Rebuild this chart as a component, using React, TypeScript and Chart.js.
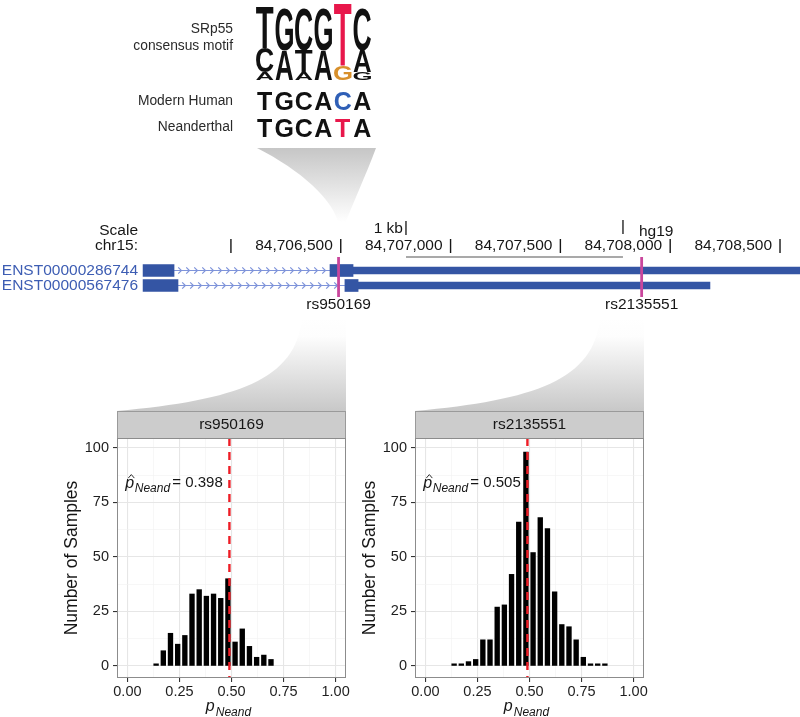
import React, { useEffect, useRef } from 'react';
import { Chart, registerables } from 'chart.js';

Chart.register(...registerables);

const FONT = '"Liberation Sans", Arial, Helvetica, sans-serif';
const INK = '#161616';

// ---------- SRp55 consensus motif logo ----------
const logoColumns = ['1', '2', '3', '4', '5', '6'];
const logoBottomLetters = ['A', 'A', 'A', 'A', 'G', 'G'];
const logoBottomBits = [0.2, 0.77, 0.2, 0.77, 0.38, 0.2];
const logoMiddleLetters = ['C', 'G', 'T', 'G', 'T', 'A'];
const logoMiddleBits = [0.64, 1.1, 0.56, 1.1, 1.62, 0.56];
const logoTopLetters = ['T', '', 'C', '', '', 'C'];
const logoTopBits = [1.08, 0, 1.1, 0, 0, 1.1];
const modernHumanSeq = ['T', 'G', 'C', 'A', 'C', 'A'];
const neanderthalSeq = ['T', 'G', 'C', 'A', 'T', 'A'];
const variantColumn = 4;

// ---------- genome browser track ----------
const transcriptIds = ['ENST00000286744', 'ENST00000567476'];
const exon1Starts = [84705600, 84705600];
const exon1Ends = [84705741, 84705759];
const exon2Starts = [84706451, 84706519];
const exon2Ends = [84706556, 84706579];
const utrEnds = [84708700, 84708181];
const snpIds = ['rs950169', 'rs2135551'];
const snpPositions = [84706490, 84707870];
const positionTicks = [84706000, 84706500, 84707000, 84707500, 84708000, 84708500];
const positionLabels = ['', '84,706,500', '84,707,000', '84,707,500', '84,708,000', '84,708,500'];
const scaleBarBounds = [84706797, 84707785];
const trackStart = 84705586;
const trackEnd = 84708591;

// ---------- histograms ----------
const binCenters = [
  0.1379, 0.1724, 0.2069, 0.2414, 0.2759, 0.3103, 0.3448, 0.3793, 0.4138, 0.4483, 0.4828,
  0.5172, 0.5517, 0.5862, 0.6207, 0.6552, 0.6897, 0.7241, 0.7586, 0.7931, 0.8276, 0.8621,
];
const rs950169Counts = [1, 7, 15, 10, 14, 33, 35, 32, 33, 31, 40, 11, 17, 9, 4, 5, 3];
const rs2135551Counts = [1, 1, 2, 3, 12, 12, 27, 28, 42, 66, 98, 52, 68, 63, 34, 19, 18, 12, 4, 1, 1, 1];
const panelTitles = ['rs950169', 'rs2135551'];
const panelCounts = [rs950169Counts, rs2135551Counts];
const neandEstimates = ['0.398', '0.505'];
const expectedFreq = 0.49;
const xTickValues = [0, 0.25, 0.5, 0.75, 1];
const xTickLabels = ['0.00', '0.25', '0.50', '0.75', '1.00'];
const xMinorValues = [0.125, 0.375, 0.625, 0.875];
const yTickValues = [0, 25, 50, 75, 100];
const yTickLabels = ['0', '25', '50', '75', '100'];
const yMinorValues = [12.5, 37.5, 62.5, 87.5];
const annotationX = -0.01;
const annotationY = 82;

const panelBounds = [
  [117, 346],
  [415, 644],
];

// ---------- helpers ----------
const isMajor = (v: number, majors: number[]) => majors.some((m) => Math.abs(m - v) < 1e-9);
const labelFor = (v: number, vals: number[], labels: string[]) => {
  const i = vals.findIndex((m) => Math.abs(m - v) < 1e-9);
  return i >= 0 ? labels[i] : '';
};

function logoColor(col: number, letter: string) {
  if (col === variantColumn && letter === 'T') return '#e8174b';
  if (col === variantColumn && letter === 'G') return '#d8902c';
  return '#111111';
}

function drawStretched(ctx: CanvasRenderingContext2D, letter: string, left: number, top: number, w: number, h: number, color: string) {
  if (h <= 0.5) return;
  ctx.save();
  ctx.font = `bold 100px ${FONT}`;
  ctx.textAlign = 'left';
  ctx.textBaseline = 'alphabetic';
  const m = ctx.measureText(letter);
  const gw = m.actualBoundingBoxLeft + m.actualBoundingBoxRight;
  const gh = m.actualBoundingBoxAscent + m.actualBoundingBoxDescent;
  ctx.translate(left, top);
  ctx.scale(w / gw, h / gh);
  ctx.fillStyle = color;
  ctx.fillText(letter, m.actualBoundingBoxLeft, m.actualBoundingBoxAscent);
  ctx.restore();
}

// ---------- logo chart ----------
const logoPlugin = {
  id: 'logoLetters',
  afterDatasetsDraw(chart: any) {
    const ctx: CanvasRenderingContext2D = chart.ctx;
    chart.data.datasets.forEach((ds: any, i: number) => {
      const meta = chart.getDatasetMeta(i);
      meta.data.forEach((bar: any, j: number) => {
        const letter = ds.letters[j];
        if (!letter) return;
        const p = bar.getProps(['x', 'y', 'base', 'width'], true);
        const top = Math.min(p.y, p.base);
        const h = Math.abs(p.base - p.y);
        drawStretched(ctx, letter, p.x - p.width / 2, top, p.width, h, logoColor(j, letter));
      });
    });
    const xs = chart.scales.x;
    ctx.save();
    ctx.font = `bold 25px ${FONT}`;
    ctx.textAlign = 'center';
    ctx.textBaseline = 'alphabetic';
    modernHumanSeq.forEach((l, j) => {
      ctx.fillStyle = j === variantColumn ? '#2f5fb6' : '#111111';
      ctx.fillText(l, xs.getPixelForValue(j), 110);
    });
    neanderthalSeq.forEach((l, j) => {
      ctx.fillStyle = j === variantColumn ? '#e8174b' : '#111111';
      ctx.fillText(l, xs.getPixelForValue(j), 137);
    });
    ctx.font = `13.8px ${FONT}`;
    ctx.fillStyle = '#2a2a2a';
    ctx.textAlign = 'right';
    ctx.textBaseline = 'middle';
    ctx.fillText('SRp55', 113, 29);
    ctx.fillText('consensus motif', 113, 46);
    ctx.fillText('Modern Human', 113, 101);
    ctx.fillText('Neanderthal', 113, 127);
    ctx.restore();
  },
};

function logoConfig(): any {
  const layers: [string[], number[]][] = [
    [logoBottomLetters, logoBottomBits],
    [logoMiddleLetters, logoMiddleBits],
    [logoTopLetters, logoTopBits],
  ];
  return {
    type: 'bar',
    data: {
      labels: logoColumns,
      datasets: layers.map(([letters, bits]) => ({
        data: bits,
        letters,
        backgroundColor: 'rgba(0,0,0,0)',
        borderWidth: 0,
        stack: 'logo',
        barPercentage: 0.9,
        categoryPercentage: 1,
      })),
    },
    options: {
      animation: false,
      responsive: false,
      events: [],
      layout: { padding: { left: 135, right: 8, top: 3, bottom: 65 } },
      plugins: { legend: { display: false }, tooltip: { enabled: false } },
      scales: {
        x: { display: false, stacked: true, offset: true },
        y: { display: false, stacked: true, min: 0, max: 2 },
      },
    },
    plugins: [logoPlugin],
  };
}

// ---------- gene track chart ----------
const genePlugin = {
  id: 'geneDecor',
  beforeDatasetsDraw(chart: any) {
    const ctx: CanvasRenderingContext2D = chart.ctx;
    const xs = chart.scales.x;
    const ys = chart.scales.y;
    ctx.save();
    // funnel from motif down to the SNP
    const s1 = xs.getPixelForValue(snpPositions[0]);
    const g = ctx.createLinearGradient(0, 148, 0, 222);
    g.addColorStop(0, '#c6c6c6');
    g.addColorStop(1, '#ffffff');
    ctx.fillStyle = g;
    ctx.beginPath();
    ctx.moveTo(257, 148);
    ctx.lineTo(376, 148);
    ctx.bezierCurveTo(366, 175, 352, 205, s1 + 5, 228);
    ctx.lineTo(s1 + 1, 228);
    ctx.bezierCurveTo(s1 - 3, 200, 300, 170, 257, 148);
    ctx.closePath();
    ctx.fill();

    // funnels from SNPs down to histogram strips
    panelBounds.forEach(([L, R]) => {
      const gg = ctx.createLinearGradient(0, 318, 0, 411);
      gg.addColorStop(0, '#ffffff');
      gg.addColorStop(0.2, '#fdfdfd');
      gg.addColorStop(1, '#c8c8c8');
      ctx.fillStyle = gg;
      ctx.beginPath();
      ctx.moveTo(L, 411);
      ctx.bezierCurveTo(L + 120, 400, R - 50, 380, R - 44, 318);
      ctx.lineTo(R, 318);
      ctx.lineTo(R, 411);
      ctx.closePath();
      ctx.fill();
    });

    // scale / position rows
    ctx.fillStyle = INK;
    ctx.font = `15.5px ${FONT}`;
    ctx.textBaseline = 'middle';
    ctx.textAlign = 'right';
    ctx.fillText('Scale', 138, 231);
    ctx.fillText('chr15:', 138, 246);
    const b0 = xs.getPixelForValue(scaleBarBounds[0]);
    const b1 = xs.getPixelForValue(scaleBarBounds[1]);
    ctx.fillText('1 kb', b0 - 3, 229);
    ctx.textAlign = 'left';
    ctx.fillText('hg19', b1 + 16, 232);
    ctx.strokeStyle = INK;
    ctx.lineWidth = 1.3;
    ctx.beginPath();
    ctx.moveTo(b0, 221);
    ctx.lineTo(b0, 235);
    ctx.moveTo(b1, 220);
    ctx.lineTo(b1, 234);
    ctx.stroke();
    ctx.strokeStyle = '#555555';
    ctx.lineWidth = 1.2;
    ctx.beginPath();
    ctx.moveTo(b0, 257);
    ctx.lineTo(b1, 257);
    ctx.stroke();

    ctx.strokeStyle = INK;
    ctx.lineWidth = 1.4;
    ctx.textAlign = 'right';
    positionTicks.forEach((p, i) => {
      const px = xs.getPixelForValue(p);
      ctx.beginPath();
      ctx.moveTo(px, 239);
      ctx.lineTo(px, 253);
      ctx.stroke();
      if (positionLabels[i]) ctx.fillText(positionLabels[i], px - 8, 246);
    });

    // introns with direction chevrons
    ctx.strokeStyle = '#7f94da';
    ctx.lineWidth = 1.2;
    transcriptIds.forEach((_, i) => {
      const yy = ys.getPixelForValue(i);
      const xa = xs.getPixelForValue(exon1Ends[i]);
      const xb = xs.getPixelForValue(exon2Starts[i]);
      ctx.beginPath();
      ctx.moveTo(xa, yy);
      ctx.lineTo(xb, yy);
      ctx.stroke();
      ctx.beginPath();
      for (let cx = xa + 6; cx < xb - 3; cx += 8) {
        ctx.moveTo(cx - 1.8, yy - 3.2);
        ctx.lineTo(cx + 1.4, yy);
        ctx.lineTo(cx - 1.8, yy + 3.2);
      }
      ctx.stroke();
    });
    ctx.restore();
  },
  afterDatasetsDraw(chart: any) {
    const ctx: CanvasRenderingContext2D = chart.ctx;
    const xs = chart.scales.x;
    ctx.save();
    snpPositions.forEach((p, i) => {
      const px = xs.getPixelForValue(p);
      ctx.strokeStyle = '#c9469c';
      ctx.lineWidth = 2.8;
      ctx.beginPath();
      ctx.moveTo(px, 257);
      ctx.lineTo(px, 297);
      ctx.stroke();
      ctx.fillStyle = INK;
      ctx.font = `15.5px ${FONT}`;
      ctx.textAlign = 'center';
      ctx.textBaseline = 'middle';
      ctx.fillText(snpIds[i], px, 305);
    });
    ctx.restore();
  },
};

function geneConfig(): any {
  const exonColor = '#3455a4';
  return {
    type: 'bar',
    data: {
      labels: transcriptIds,
      datasets: [
        {
          data: transcriptIds.map((_, i) => [exon1Starts[i], exon1Ends[i]]),
          backgroundColor: exonColor,
          borderWidth: 0,
          barThickness: 12,
          grouped: false,
        },
        {
          data: transcriptIds.map((_, i) => [exon2Starts[i], exon2Ends[i]]),
          backgroundColor: exonColor,
          borderWidth: 0,
          barThickness: 12,
          grouped: false,
        },
        {
          data: transcriptIds.map((_, i) => [exon2Ends[i], utrEnds[i]]),
          backgroundColor: exonColor,
          borderWidth: 0,
          barThickness: 7,
          grouped: false,
        },
      ],
    },
    options: {
      indexAxis: 'y',
      animation: false,
      responsive: false,
      events: [],
      layout: { padding: { top: 263, bottom: 424, left: 0, right: 0 } },
      plugins: { legend: { display: false }, tooltip: { enabled: false } },
      scales: {
        x: { type: 'linear', display: false, min: trackStart, max: trackEnd },
        y: {
          type: 'category',
          offset: true,
          grid: { display: false, drawTicks: false },
          border: { display: false },
          ticks: { autoSkip: false, color: '#3d5db3', padding: 2, font: { family: FONT, size: 15.5 } },
          afterFit: (s: any) => {
            s.width = 140;
          },
        },
      },
    },
    plugins: [genePlugin],
  };
}

// ---------- histogram charts ----------
function gridOpts(majors: number[]) {
  return {
    offset: false,
    color: (c: any) => (c.tick && isMajor(c.tick.value, majors) ? '#e6e6e6' : '#f1f1f1'),
    lineWidth: (c: any) => (c.tick && isMajor(c.tick.value, majors) ? 1.1 : 0.6),
    tickColor: (c: any) => (c.tick && isMajor(c.tick.value, majors) ? '#333333' : 'rgba(0,0,0,0)'),
    tickWidth: 1.1,
    tickLength: 4,
    drawTicks: true,
  };
}

function histPlugin(idx: number) {
  return {
    id: 'histDecor' + idx,
    beforeDraw(chart: any) {
      const ctx: CanvasRenderingContext2D = chart.ctx;
      const a = chart.chartArea;
      ctx.save();
      ctx.fillStyle = '#cccccc';
      ctx.fillRect(a.left, a.top - 27, a.right - a.left, 27);
      ctx.strokeStyle = '#9a9a9a';
      ctx.lineWidth = 1;
      ctx.strokeRect(a.left + 0.5, a.top - 27 + 0.5, a.right - a.left - 1, 27);
      ctx.fillStyle = INK;
      ctx.font = `15.5px ${FONT}`;
      ctx.textAlign = 'center';
      ctx.textBaseline = 'middle';
      ctx.fillText(panelTitles[idx], (a.left + a.right) / 2, a.top - 13);
      ctx.restore();
    },
    afterDatasetsDraw(chart: any) {
      const ctx: CanvasRenderingContext2D = chart.ctx;
      const a = chart.chartArea;
      const xs = chart.scales.x;
      const ys = chart.scales.y;
      ctx.save();
      // expected-frequency dashed line
      const rx = xs.getPixelForValue(expectedFreq);
      ctx.strokeStyle = '#ee1c25';
      ctx.lineWidth = 2.4;
      ctx.setLineDash([8, 6]);
      ctx.beginPath();
      ctx.moveTo(rx, a.top);
      ctx.lineTo(rx, a.bottom);
      ctx.stroke();
      ctx.setLineDash([]);
      // panel border
      ctx.strokeStyle = '#8c8c8c';
      ctx.lineWidth = 1;
      ctx.strokeRect(a.left + 0.5, a.top + 0.5, a.right - a.left - 1, a.bottom - a.top - 1);
      // estimate annotation
      const ax = xs.getPixelForValue(annotationX);
      const by = ys.getPixelForValue(annotationY);
      ctx.fillStyle = INK;
      ctx.textAlign = 'left';
      ctx.textBaseline = 'alphabetic';
      ctx.font = `italic 16px ${FONT}`;
      ctx.fillText('p', ax, by + 1);
      const pw = ctx.measureText('p').width;
      ctx.strokeStyle = INK;
      ctx.lineWidth = 0.9;
      ctx.beginPath();
      ctx.moveTo(ax + 3, by - 9);
      ctx.lineTo(ax + 6, by - 12.5);
      ctx.lineTo(ax + 9, by - 9);
      ctx.stroke();
      ctx.font = `italic 12px ${FONT}`;
      ctx.fillText('Neand', ax + pw + 0.5, by + 5);
      ctx.font = `15px ${FONT}`;
      ctx.fillText('= ' + neandEstimates[idx], ax + 47, by);
      // x-axis title p_Neand
      ctx.font = `italic 16px ${FONT}`;
      const w1 = ctx.measureText('p').width;
      ctx.font = `italic 12px ${FONT}`;
      const w2 = ctx.measureText('Neand').width;
      const start = (a.left + a.right) / 2 - 3 - (w1 + w2 + 1) / 2;
      ctx.font = `italic 16px ${FONT}`;
      ctx.fillText('p', start, 306);
      ctx.font = `italic 12px ${FONT}`;
      ctx.fillText('Neand', start + w1 + 1, 310.5);
      ctx.restore();
    },
  };
}

function histConfig(idx: number): any {
  const counts = panelCounts[idx];
  return {
    type: 'bar',
    data: {
      datasets: [
        {
          data: counts.map((c, i) => ({ x: binCenters[i], y: c })),
          backgroundColor: '#000000',
          borderWidth: 0,
          barThickness: 4.7,
        },
      ],
    },
    options: {
      animation: false,
      responsive: false,
      events: [],
      layout: { padding: { left: 0, right: 9, top: 33, bottom: 0 } },
      plugins: { legend: { display: false }, tooltip: { enabled: false } },
      scales: {
        x: {
          type: 'linear',
          min: -0.05,
          max: 1.05,
          offset: false,
          afterBuildTicks: (s: any) => {
            s.ticks = [...xTickValues, ...xMinorValues].sort((p, q) => p - q).map((v) => ({ value: v }));
          },
          afterFit: (s: any) => {
            s.height = 39;
          },
          grid: gridOpts(xTickValues),
          border: { display: false },
          ticks: {
            autoSkip: false,
            maxRotation: 0,
            padding: 1,
            color: '#1e1e1e',
            font: { family: FONT, size: 14.5 },
            callback: (v: number) => labelFor(v, xTickValues, xTickLabels),
          },
        },
        y: {
          type: 'linear',
          min: -5.5,
          max: 104.5,
          afterBuildTicks: (s: any) => {
            s.ticks = [...yTickValues, ...yMinorValues].sort((p, q) => p - q).map((v) => ({ value: v }));
          },
          afterFit: (s: any) => {
            s.width = 67;
          },
          grid: gridOpts(yTickValues),
          border: { display: false },
          title: {
            display: true,
            text: 'Number of Samples',
            color: INK,
            font: { family: FONT, size: 17.5 },
            padding: { top: 12, bottom: 0 },
          },
          ticks: {
            autoSkip: false,
            padding: 4,
            color: '#1e1e1e',
            font: { family: FONT, size: 14.5 },
            callback: (v: number) => labelFor(v, yTickValues, yTickLabels),
          },
        },
      },
    },
    plugins: [histPlugin(idx)],
  };
}

// ---------- React wiring ----------
function ChartCanvas(props: { make: () => any; left: number; top: number; width: number; height: number }) {
  const ref = useRef<HTMLCanvasElement>(null);
  useEffect(() => {
    const chart = new Chart(ref.current as HTMLCanvasElement, props.make());
    return () => chart.destroy();
  }, []);
  return (
    <canvas
      ref={ref}
      width={props.width}
      height={props.height}
      style={{ position: 'absolute', left: props.left, top: props.top, width: props.width, height: props.height }}
    />
  );
}

export default function App() {
  return (
    <div style={{ position: 'absolute', left: 0, top: 0, width: 800, height: 717, background: '#ffffff', overflow: 'hidden' }}>
      <ChartCanvas make={geneConfig} left={0} top={0} width={800} height={717} />
      <ChartCanvas make={logoConfig} left={120} top={0} width={260} height={145} />
      <ChartCanvas make={() => histConfig(0)} left={50} top={405} width={305} height={312} />
      <ChartCanvas make={() => histConfig(1)} left={348} top={405} width={305} height={312} />
    </div>
  );
}
